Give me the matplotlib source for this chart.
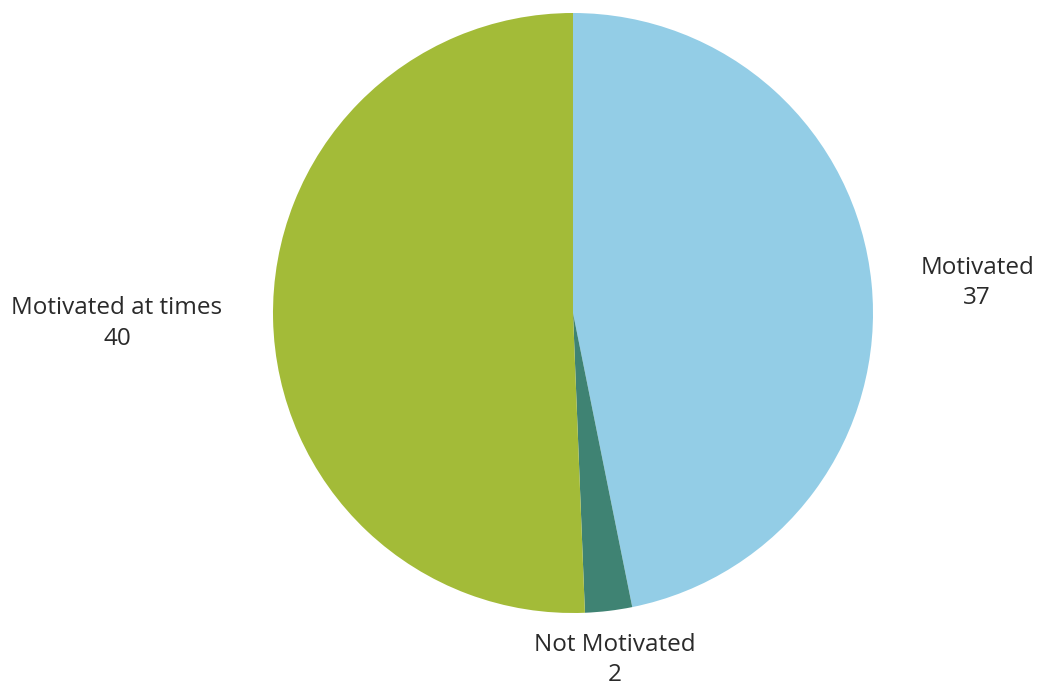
import matplotlib
matplotlib.use('Agg')
import matplotlib.pyplot as plt

labels = ['Motivated', 'Not Motivated', 'Motivated at times']
values = [37, 2, 40]
colors = ['#93cde6', '#3f8373', '#a3bb38']

# label anchor points in pie data units (radius 1)
label_pos = [(1.347, 0.10), (0.14, -1.157), (-1.52, -0.035)]

fig = plt.figure(figsize=(10.4, 6.87), dpi=100)
ax = fig.add_axes([273/1040, 74/687, 600/1040, 600/687])
ax.pie(values, colors=colors, startangle=90, counterclock=False, radius=1,
       wedgeprops=dict(linewidth=0))
ax.set_xlim(-1, 1)
ax.set_ylim(-1, 1)
ax.set_aspect('auto')
ax.axis('off')

for lab, val, (x, y) in zip(labels, values, label_pos):
    ax.text(x, y, f'{lab}\n{val}', ha='center', va='center', fontsize=17.5,
            color='#2a2a2a', family='Open Sans', linespacing=1.35, clip_on=False)

fig.savefig('out.png', dpi=100)
